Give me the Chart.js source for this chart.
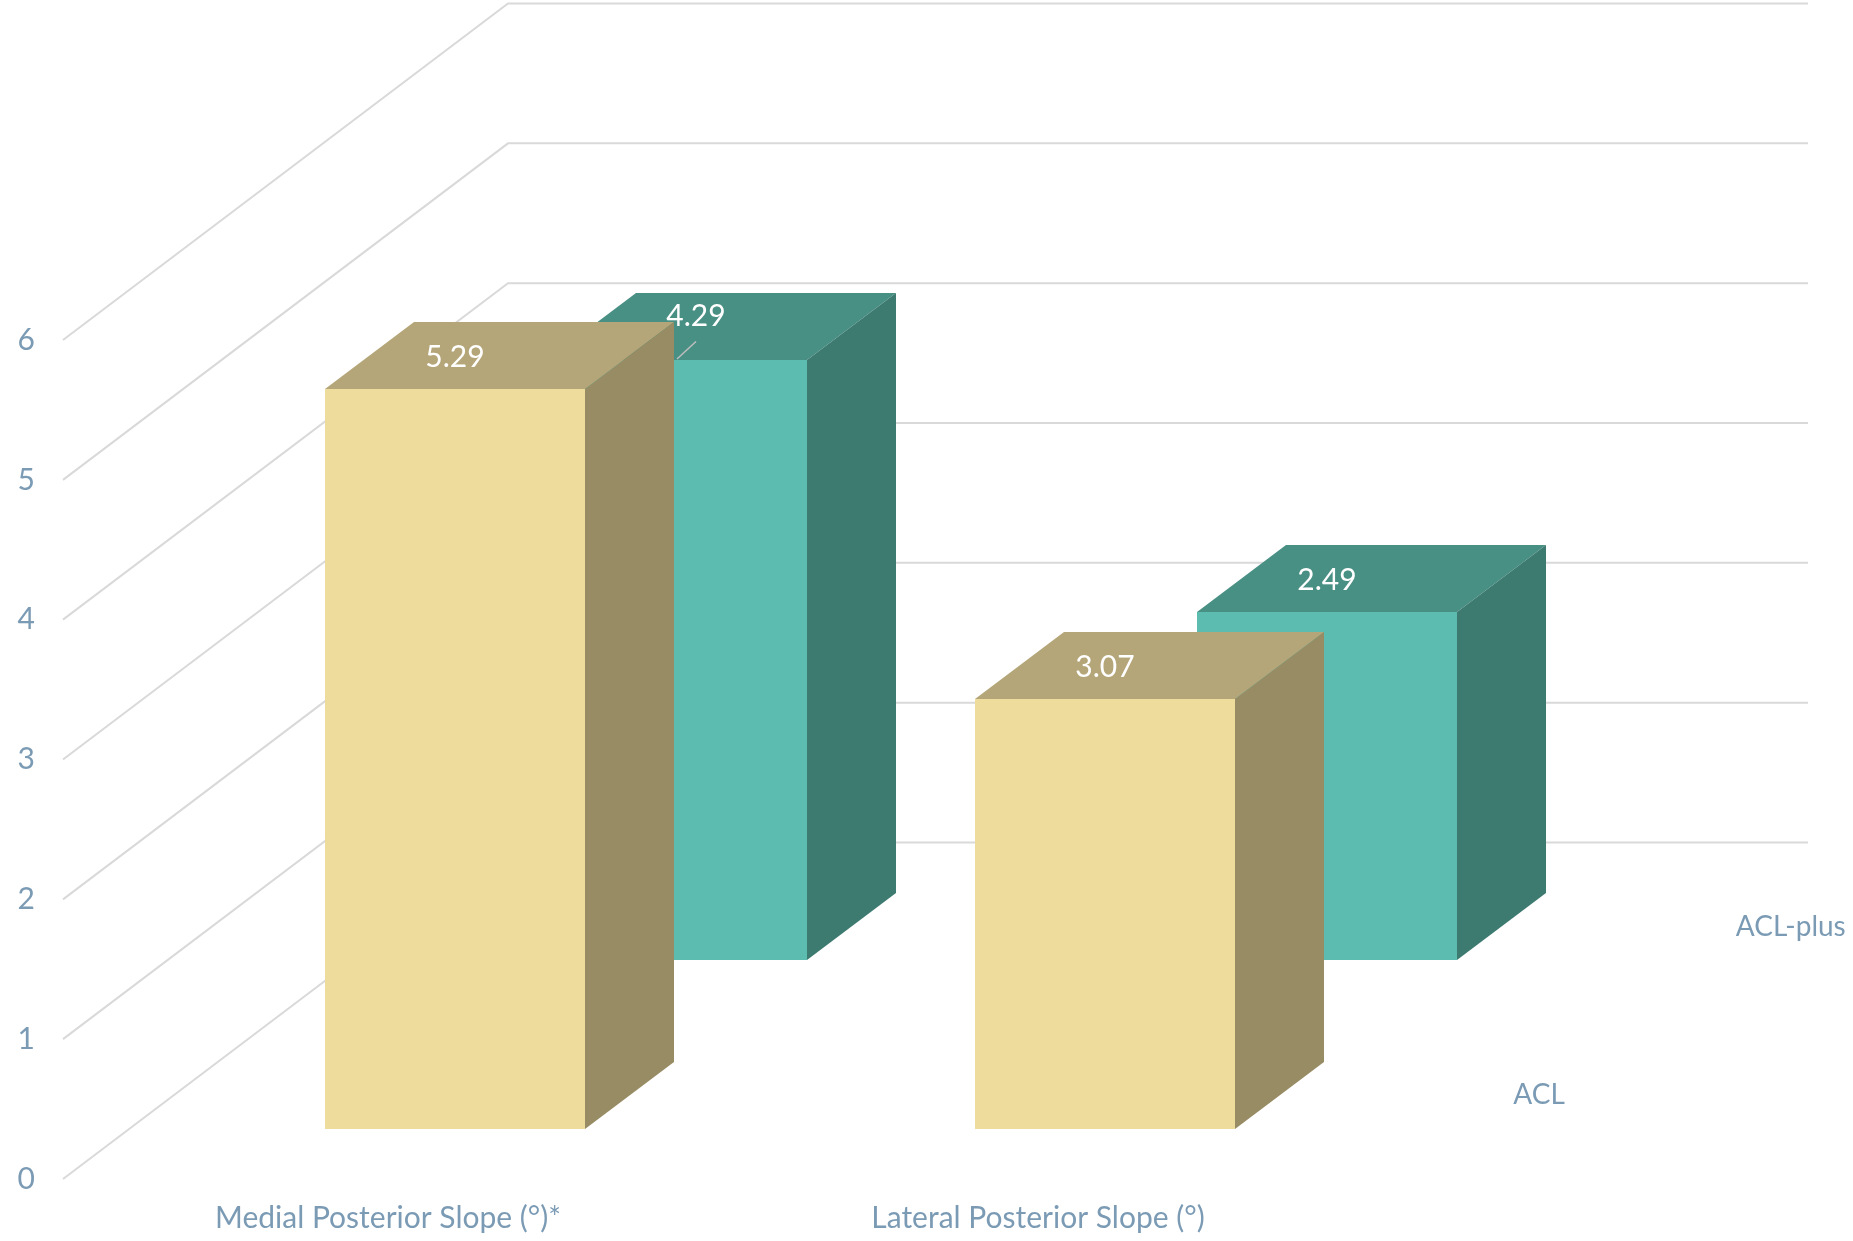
<!DOCTYPE html>
<html><head><meta charset="utf-8">
<script src="https://cdn.jsdelivr.net/npm/chart.js@4.4.0/dist/chart.umd.min.js"></script>
<style>html,body{margin:0;padding:0;background:#fff;} canvas{display:block;}</style>
</head><body>
<canvas id="c" width="1853" height="1241"></canvas>
<script>
const categories = ['Medial Posterior Slope (°)*', 'Lateral Posterior Slope (°)'];
const seriesNames = ['ACL', 'ACL-plus'];
const aclValues = [5.29, 3.07];
const aclPlusValues = [4.29, 2.49];
const yTickValues = [0, 1, 2, 3, 4, 5, 6];

const FONT = 'Lato, "Open Sans", sans-serif';
const AXIS_COLOR = '#7B9BB5';

const box3d = {
  id: 'box3d',
  beforeDatasetsDraw(chart, args, opts) {
    const ctx = chart.ctx;
    const {left, right, bottom} = chart.chartArea;
    const ys = chart.scales.y;
    const D = opts.depth;
    ctx.save();
    ctx.strokeStyle = opts.gridColor;
    ctx.lineWidth = opts.gridWidth;
    ys.ticks.forEach(t => {
      const py = ys.getPixelForValue(t.value);
      ctx.beginPath();
      ctx.moveTo(left, py);
      ctx.lineTo(left + D.x, py + D.y);
      ctx.lineTo(right + D.x, py + D.y);
      ctx.stroke();
    });
    const n = chart.data.datasets.length;
    const row = 1 / n;
    const bx = Math.round(opts.barDepth * D.x), by = Math.round(opts.barDepth * D.y);
    const poly = (pts, color) => {
      ctx.beginPath();
      ctx.moveTo(pts[0][0], pts[0][1]);
      for (let k = 1; k < pts.length; k++) ctx.lineTo(pts[k][0], pts[k][1]);
      ctx.closePath();
      ctx.fillStyle = color;
      ctx.fill();
    };
    const labels = [];
    for (let i = n - 1; i >= 0; i--) {
      const meta = chart.getDatasetMeta(i);
      const ds = chart.data.datasets[i];
      const t0 = row * i + (row - opts.barDepth) / 2;
      const ox = t0 * D.x, oy = t0 * D.y;
      meta.data.forEach((el, j) => {
        const p = el.getProps(['x', 'y', 'base', 'width'], true);
        const L = Math.round(p.x - p.width / 2 + ox), R = Math.round(p.x + p.width / 2 + ox);
        const T = Math.round(p.y + oy), B = Math.round(p.base + oy);
        poly([[L, T], [R, T], [R, B], [L, B]], ds.faceColors[0]);
        poly([[L, T], [L + bx, T + by], [R + bx, T + by], [R, T]], ds.faceColors[1]);
        poly([[R, T], [R + bx, T + by], [R + bx, B + by], [R, B]], ds.faceColors[2]);
        labels.push({i, j, cx: (L + R) / 2, T, text: ds.data[j].toFixed(2)});
      });
      const tc = row * i + row / 2;
      ctx.fillStyle = AXIS_COLOR;
      ctx.font = '28px ' + FONT;
      ctx.textAlign = 'left';
      ctx.textBaseline = 'middle';
      ctx.fillText(seriesNames[i], right + tc * D.x + opts.seriesLabelGap, bottom + tc * D.y);
    }
    ctx.font = '30px ' + FONT;
    ctx.textAlign = 'center';
    ctx.textBaseline = 'middle';
    labels.forEach(lb => {
      const shift = opts.labelShift[lb.i + '-' + lb.j];
      let lx = lb.cx, ly = lb.T + by / 2 + 2;
      if (shift) {
        lx += shift.dx; ly += shift.dy;
        ctx.strokeStyle = opts.leaderColor;
        ctx.lineWidth = 1.5;
        ctx.beginPath();
        ctx.moveTo(lb.cx, lb.T - 1);
        ctx.lineTo(lx, ly + 25);
        ctx.stroke();
      }
      ctx.fillStyle = '#FFFFFF';
      ctx.fillText(lb.text, lx, ly);
    });
    ctx.restore();
    return false;
  }
};

new Chart(document.getElementById('c'), {
  type: 'bar',
  data: {
    labels: categories,
    datasets: [
      {label: seriesNames[0], data: aclValues, faceColors: ['#EEDC9C', '#B5A679', '#978C64'], backgroundColor: '#EEDC9C'},
      {label: seriesNames[1], data: aclPlusValues, faceColors: ['#5DBCB0', '#488F84', '#3D7A70'], backgroundColor: '#5DBCB0'}
    ]
  },
  options: {
    responsive: false,
    animation: false,
    layout: {padding: {top: 340, right: 490, left: 0, bottom: 0}},
    datasets: {bar: {grouped: false, barPercentage: 0.4, categoryPercentage: 1}},
    plugins: {
      legend: {display: false},
      tooltip: {enabled: false},
      box3d: {
        depth: {x: 445, y: -336.5},
        barDepth: 0.2,
        gridColor: '#D9D9D9',
        gridWidth: 2,
        leaderColor: '#BFBFBF',
        seriesLabelGap: 39,
        labelShift: {'1-0': {dx: 19, dy: -12}}
      }
    },
    scales: {
      x: {
        grid: {display: false, drawTicks: false},
        border: {display: false},
        ticks: {color: AXIS_COLOR, font: {family: FONT, size: 30}, padding: 21, maxRotation: 0},
        afterFit(s) { s.height = 62; }
      },
      y: {
        min: 0, max: 6,
        afterBuildTicks(s) { s.ticks = yTickValues.map(v => ({value: v})); },
        grid: {display: false, drawTicks: false},
        border: {display: false},
        ticks: {color: AXIS_COLOR, font: {family: FONT, size: 30}, padding: 28, crossAlign: 'center'},
        afterFit(s) { s.width = 63; }
      }
    }
  },
  plugins: [box3d]
});
</script>
</body></html>
